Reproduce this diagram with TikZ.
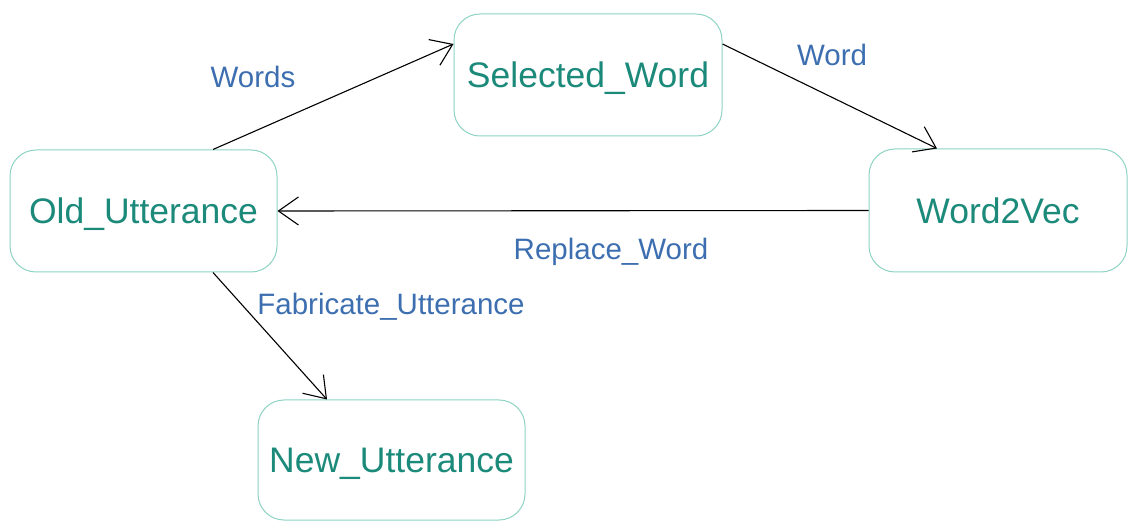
\documentclass[tikz,border=0pt]{standalone}
\usepackage{fontspec}
\setmainfont{Liberation Sans}
\usepackage{tikz}
\usetikzlibrary{arrows.meta}
\definecolor{boxline}{HTML}{8ED3C3}
\definecolor{boxtext}{HTML}{1B8A7A}
\definecolor{edgetext}{HTML}{3D6FB0}

\begin{document}
\begin{tikzpicture}[x=1pt, y=-1pt,
    state/.style={draw=boxline, line width=1pt, rounded corners=26pt, text=boxtext,
        minimum width=267pt, minimum height=122pt, text depth=0pt,
        font=\fontsize{35.5}{40}\selectfont},
    edge/.style={draw=black, line width=1.1pt, -{Straight Barb[length=20pt, width=28pt]}},
    lbl/.style={text=edgetext, font=\fontsize{29.5}{34}\selectfont}]
    \useasboundingbox (0,0) rectangle (1128,521);

    % states
    \node[state] (old) at (143.5, 211) {Old\_Utterance};
    \node[state, minimum width=268pt] (sel) at (588, 75) {Selected\_Word};
    \node[state, minimum width=258pt, minimum height=123pt] (w2v) at (998, 210.5) {Word2Vec};
    \node[state, minimum height=120pt] (new) at (391.5, 460) {New\_Utterance};

    % transitions
    \draw[edge] ([xshift=69.5pt]old.north) -- ([yshift=31pt]sel.west);
    \draw[edge] ([yshift=31pt]sel.east) -- ([xshift=-61pt]w2v.north);
    \draw[edge] (w2v.west) -- (old.east);
    \draw[edge] ([xshift=69.5pt]old.south) -- ([xshift=-64.5pt]new.north);

    % labels
    \node[lbl] (wordsLbl) at (253, 77) {Words};
    \node[lbl] (wordLbl) at (832, 55) {Word};
    \node[lbl] (replaceLbl) at (611, 252) {Replace\_Word};
    \node[lbl] (fabLbl) at (391, 307) {Fabricate\_Utterance};
\end{tikzpicture}
\end{document}
